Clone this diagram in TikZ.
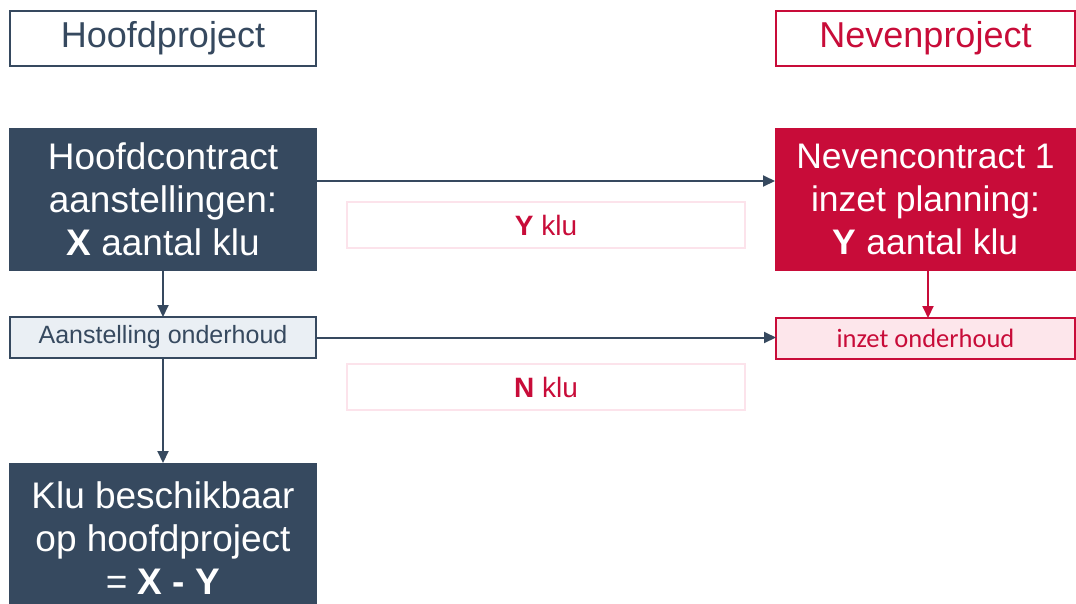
\documentclass[tikz,border=0pt]{standalone}
\usepackage{fontspec}
\setmainfont{Liberation Sans}
\newfontfamily\calfont{Carlito}
\usetikzlibrary{arrows.meta}
\definecolor{slate}{HTML}{36495F}
\definecolor{crim}{HTML}{C80C39}
\definecolor{pinkline}{HTML}{FCE3EB}
\definecolor{pinkfill}{HTML}{FDE6EB}
\definecolor{greyfill}{HTML}{EAEFF4}
\tikzset{
  every node/.style={inner sep=0pt, outer sep=0pt, align=center},
  header/.style={draw, line width=2pt, fill=white, minimum width=306pt, minimum height=55pt, font=\fontsize{36}{40}\selectfont},
  bigbox/.style={minimum width=308pt, minimum height=143pt, text=white, font=\fontsize{37}{43}\selectfont},
  smallbox/.style={draw, line width=1.6pt, minimum width=306pt, minimum height=41pt, font=\fontsize{25}{28}\selectfont},
  labelbox/.style={draw=pinkline, line width=2pt, minimum width=398pt, minimum height=46pt, text=crim, font=\fontsize{28}{30}\selectfont},
  arr/.style={line width=2pt, -{Triangle[length=12pt,width=11pt]}}
}
\begin{document}
\begin{tikzpicture}[x=1pt,y=-1pt]
\useasboundingbox[fill=white] (0,0) rectangle (1076,603);
% headers
\node[header, draw=slate, text=slate] (hp) at (163,38.5) {Hoofdproject};
\node[header, draw=crim, text=crim, minimum width=299pt] (np) at (925.5,38.5) {Nevenproject};
% main boxes
\node[bigbox, fill=slate] (hc) at (163,199.5) {Hoofdcontract\\aanstellingen:\\\textbf{X} aantal klu};
\node[bigbox, fill=crim, minimum width=301pt, font=\fontsize{35.5}{43}\selectfont] (nc) at (925.5,199.5) {Nevencontract 1\\inzet planning:\\\textbf{Y} aantal klu};
% label boxes
\node[labelbox] (yk) at (546,225) {\textbf{Y} klu};
\node[labelbox] (nk) at (546,387) {\textbf{N} klu};
% small boxes
\node[smallbox, draw=slate, fill=greyfill, text=slate] (ao) at (163,337.5) {Aanstelling onderhoud};
\node[smallbox, draw=crim, fill=pinkfill, text=crim, minimum width=299pt, font=\calfont\fontsize{26.5}{30}\selectfont] (io) at (925.5,338.5) {inzet onderhoud};
% result box
\node[bigbox, fill=slate, minimum height=150pt] (kb) at (163,538) {Klu beschikbaar\\op hoofdproject\\= \textbf{X - Y}};
% connectors
\draw[arr, slate] ([yshift=18.5pt]hc.east) -- ([yshift=18.5pt]nc.west);
\draw[arr, slate] (hc.south) -- (ao.north);
\draw[arr, crim] ([xshift=2.5pt]nc.south) -- ([xshift=2.5pt]nc.south |- io.north);
\draw[arr, slate] (ao.east) -- (ao.east -| io.west);
\draw[arr, slate] (ao.south) -- (kb.north);
\end{tikzpicture}
\end{document}
